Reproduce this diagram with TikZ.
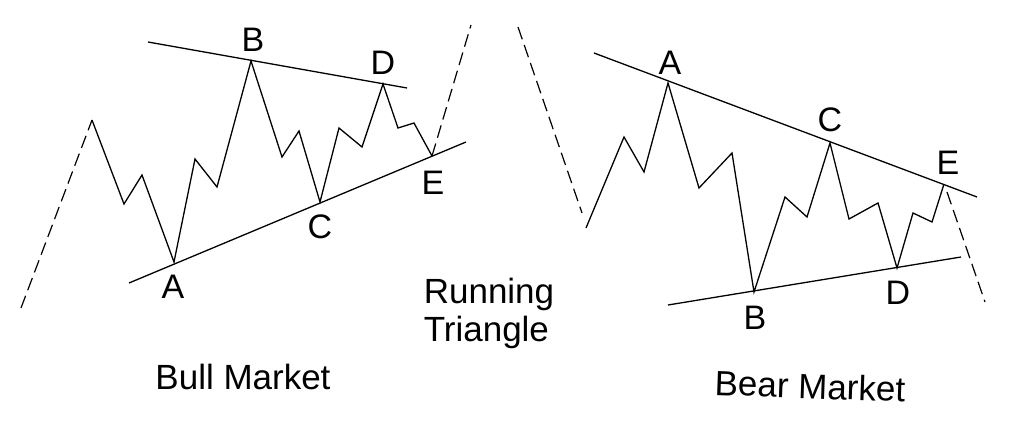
\documentclass[tikz,border=0pt]{standalone}
\usepackage{fontspec}
\setmainfont{Liberation Sans}
\begin{document}
\begin{tikzpicture}[x=1pt,y=-1pt,
  wave/.style={line width=1.3pt,line join=miter},
  trend/.style={line width=1.3pt},
  ext/.style={line width=1.2pt,dash pattern=on 13pt off 6pt},
  lbl/.style={font=\fontsize{34}{40}\selectfont,inner sep=0pt},
  title/.style={font=\fontsize{35}{38}\selectfont,inner sep=0pt,align=left}]
\useasboundingbox (0,0) rectangle (1019,425);
% ---------- Bull market ----------
\coordinate (l0) at (21,308);
\coordinate (l1) at (92,120);
\coordinate (l2) at (124,204);
\coordinate (l3) at (142,175);
\coordinate (lA) at (174,262);
\coordinate (l5) at (195,159);
\coordinate (l6) at (217,187);
\coordinate (lB) at (251,61);
\coordinate (l8) at (282,157);
\coordinate (l9) at (299,131);
\coordinate (lC) at (320,202);
\coordinate (l11) at (339,128);
\coordinate (l12) at (362,147);
\coordinate (lD) at (383,84);
\coordinate (l14) at (398,128);
\coordinate (l15) at (414,123);
\coordinate (lE) at (432,156);
\coordinate (lend) at (471,25);
\coordinate (lu1) at (148,42);
\coordinate (lu2) at (407,88);
\coordinate (ll1) at (129,283);
\coordinate (ll2) at (466,142);
\draw[ext] (l0) -- (l1);
\draw[wave] (l1) -- (l2) -- (l3) -- (lA) -- (l5) -- (l6) -- (lB) -- (l8) -- (l9) -- (lC)
  -- (l11) -- (l12) -- (lD) -- (l14) -- (l15) -- (lE);
\draw[ext] (lE) -- (lend);
\draw[trend] (lu1) -- (lu2);
\draw[trend] (ll1) -- (ll2);
\node[lbl] (tA) at (173,287) {A};
\node[lbl] (tB) at (253,40) {B};
\node[lbl] (tC) at (320,227) {C};
\node[lbl] (tD) at (383,63) {D};
\node[lbl] (tE) at (433,183) {E};
\node[title] (bull) at (243,377) {Bull Market};
\node[title] (run) at (489,313) {Running\\Triangle};
% ---------- Bear market ----------
\coordinate (r0) at (518,27);
\coordinate (r1) at (582,213);
\coordinate (r1b) at (586,228);
\coordinate (r2) at (624,137);
\coordinate (r3) at (644,172);
\coordinate (rA) at (668,83);
\coordinate (r5) at (699,188);
\coordinate (r6) at (732,153);
\coordinate (rB) at (754,292);
\coordinate (r8) at (785,197);
\coordinate (r9) at (807,217);
\coordinate (rC) at (830,143);
\coordinate (r11) at (849,219);
\coordinate (r12) at (878,203);
\coordinate (rD) at (897,268);
\coordinate (r14) at (913,213);
\coordinate (r15) at (932,222);
\coordinate (rE) at (944,184);
\coordinate (rE2) at (947,192);
\coordinate (rend) at (985,302);
\coordinate (ru1) at (594,53);
\coordinate (ru2) at (977,197);
\coordinate (rl1) at (668,305);
\coordinate (rl2) at (961,257);
\draw[ext] (r0) -- (r1);
\draw[wave] (r1b) -- (r2) -- (r3) -- (rA) -- (r5) -- (r6) -- (rB) -- (r8) -- (r9) -- (rC)
  -- (r11) -- (r12) -- (rD) -- (r14) -- (r15) -- (rE);
\draw[ext] (rE2) -- (rend);
\draw[trend] (ru1) -- (ru2);
\draw[trend] (rl1) -- (rl2);
\node[lbl] (sA) at (670,63) {A};
\node[lbl] (sB) at (755,318) {B};
\node[lbl] (sC) at (830,120) {C};
\node[lbl] (sD) at (898,293) {D};
\node[lbl] (sE) at (948,163) {E};
\node[title,rotate=-2] (bear) at (810,386) {Bear Market};
\end{tikzpicture}
\end{document}
